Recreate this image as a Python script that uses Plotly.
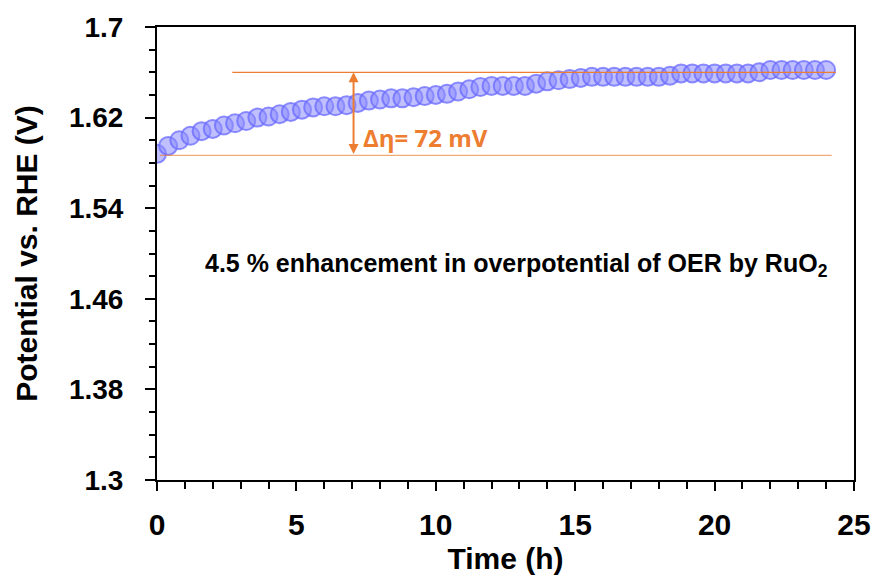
import plotly.graph_objects as go

# ---- data ----
time_h = [round(0.4 * i, 1) for i in range(61)]
potential_v = [
    1.588, 1.595, 1.600, 1.604, 1.608, 1.610, 1.613, 1.615, 1.617, 1.620,
    1.621, 1.623, 1.625, 1.627, 1.629, 1.630, 1.630, 1.631, 1.633, 1.635,
    1.636, 1.637, 1.637, 1.638, 1.639, 1.640, 1.641, 1.643, 1.645, 1.647,
    1.648, 1.648, 1.648, 1.648, 1.650, 1.652, 1.653, 1.654, 1.655, 1.656,
    1.656, 1.656, 1.656, 1.656, 1.656, 1.656, 1.657, 1.659, 1.659, 1.659,
    1.659, 1.659, 1.659, 1.659, 1.660, 1.662, 1.662, 1.662, 1.662, 1.662,
    1.662,
]
y_tickvals = [1.3, 1.38, 1.46, 1.54, 1.62, 1.7]
y_ticktext = ["1.3", "1.38", "1.46", "1.54", "1.62", "1.7"]
x_tickvals = [0, 5, 10, 15, 20, 25]

upper_level = 1.660
lower_level = 1.5866
arrow_x = 7.05
orange = "#ED7D31"

fig = go.Figure()
fig.add_trace(go.Scatter(
    x=time_h, y=potential_v, mode="markers",
    marker=dict(size=18, color="rgba(140,140,255,0.55)",
                line=dict(color="rgba(105,105,255,0.75)", width=2)),
    showlegend=False, hoverinfo="skip",
))

# orange reference lines
fig.add_shape(type="line", xref="x", yref="y", x0=2.7, x1=24.35,
              y0=upper_level, y1=upper_level, line=dict(color=orange, width=1.3))
fig.add_shape(type="line", xref="x", yref="y", x0=0.1, x1=24.2,
              y0=lower_level, y1=lower_level,
              line=dict(color="rgba(237,125,49,0.65)", width=1.3))

# double-headed arrow
fig.add_annotation(x=arrow_x, y=upper_level, ax=arrow_x, ay=lower_level,
                   xref="x", yref="y", axref="x", ayref="y", text="",
                   showarrow=True, arrowhead=2, startarrowhead=2,
                   arrowside="end+start", arrowsize=1, arrowwidth=2,
                   arrowcolor=orange, startarrowsize=1)

fig.add_annotation(x=7.3, y=1.6025, xref="x", yref="y", xanchor="left",
                   yanchor="middle", text="<b>Δη= 72 mV</b>", showarrow=False,
                   font=dict(family="Open Sans", size=24, color=orange))

fig.add_annotation(x=12.9, y=1.4899, xref="x", yref="y", xanchor="center",
                   yanchor="middle",
                   text="<b>4.5 % enhancement in overpotential of OER by RuO<sub>2</sub></b>",
                   showarrow=False,
                   font=dict(family="Arial", size=25, color="black"))

title_font = dict(family="Arial", size=30, color="black")
fig.update_xaxes(
    range=[0, 25], tickvals=x_tickvals, ticks="outside", ticklen=9, tickwidth=2,
    tickcolor="black", showline=True, linecolor="black", linewidth=2,
    mirror=True, showgrid=False, zeroline=False, ticklabelstandoff=8,
    tickfont=dict(family="Arial", size=30, color="black", weight="bold"),
    minor=dict(dtick=1, ticks="outside", ticklen=7, tickwidth=2, tickcolor="black"),
    title=dict(text="<b>Time (h)</b>", font=title_font, standoff=8),
)
fig.update_yaxes(
    range=[1.3, 1.7], tickvals=y_tickvals, ticktext=y_ticktext, ticks="outside",
    ticklen=10, tickwidth=2, tickcolor="black", showline=True, linecolor="black",
    linewidth=2, mirror=True, showgrid=False, zeroline=False, ticklabelstandoff=16,
    tickfont=dict(family="Arial", size=28, color="black", weight="bold"),
    minor=dict(tickvals=[1.3 + 0.02 * i for i in range(21)], ticks="outside",
               ticklen=6, tickwidth=2, tickcolor="black"),
    title=dict(text="<b>Potential vs. RHE (V)</b>", font=title_font, standoff=22),
)
fig.update_layout(
    width=883, height=584, margin=dict(l=157, r=25, t=23, b=104),
    plot_bgcolor="white", paper_bgcolor="white",
    font=dict(family="Arial", color="black"),
)
fig.write_html("out.html")
